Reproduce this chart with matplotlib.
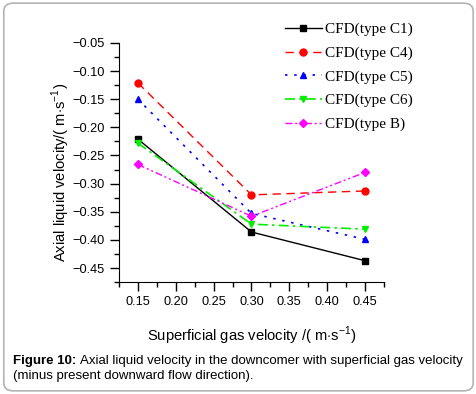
import numpy as np
import matplotlib
matplotlib.use("Agg")
import matplotlib.pyplot as plt
from matplotlib.patches import FancyBboxPatch
from matplotlib.ticker import MultipleLocator

# data
gas_velocity = [0.15, 0.30, 0.45]
c1 = [-0.221, -0.386, -0.437]
c4 = [-0.121, -0.320, -0.313]
c5 = [-0.150, -0.353, -0.399]
c6 = [-0.228, -0.372, -0.381]
type_b = [-0.266, -0.358, -0.280]
labels = ["CFD(type C1)", "CFD(type C4)", "CFD(type C5)", "CFD(type C6)", "CFD(type B)"]

plt.rcParams['font.family'] = ['Liberation Sans', 'DejaVu Sans']
plt.rcParams['mathtext.fontset'] = 'custom'
plt.rcParams['mathtext.rm'] = 'Liberation Sans'

fig = plt.figure(figsize=(4.77, 3.94), dpi=100)

# rounded grey frame round the whole figure
frame = FancyBboxPatch((0.008, 0.008), 0.984, 0.984, boxstyle="round,pad=0,rounding_size=0.02",
                       transform=fig.transFigure, facecolor='none', edgecolor='#b4b4b4', linewidth=1.2)
fig.patches.append(frame)

ax = fig.add_axes([0.2495, 0.284, 0.5555, 0.607])
ax.patch.set_alpha(0)

ax.plot(gas_velocity, c1, color='black', linestyle='-', marker='s', markersize=4, linewidth=1, label=labels[0])
ax.plot(gas_velocity, c4, color='#ff0000', linestyle=(0, (6, 4)), marker='o', markersize=5, linewidth=1, label=labels[1])
ax.plot(gas_velocity, c5, color='#0000ff', linestyle=(0, (1.5, 4)), marker='^', markersize=5, linewidth=1.2, label=labels[2])
ax.plot(gas_velocity, c6, color='#00ee00', linestyle=(0, (6, 2.5, 1.5, 2.5)), marker='v', markersize=5, linewidth=1.2, label=labels[3])
ax.plot(gas_velocity, type_b, color='#ff00ff', linestyle=(0, (5, 2, 1.5, 2, 1.5, 2)), marker='D', markersize=4, linewidth=1, label=labels[4])

ax.set_xlim(0.125, 0.475)
ax.set_ylim(-0.475, -0.05)
ax.set_xticks([0.15, 0.20, 0.25, 0.30, 0.35, 0.40, 0.45])
ax.set_yticks([-0.05, -0.10, -0.15, -0.20, -0.25, -0.30, -0.35, -0.40, -0.45])
ax.xaxis.set_minor_locator(MultipleLocator(0.025))
ax.yaxis.set_minor_locator(MultipleLocator(0.025))
ax.tick_params(which='major', direction='out', length=6.5, width=1, labelsize=9.2, pad=3.5)
ax.tick_params(which='minor', direction='out', length=3.5, width=1)
ax.spines['top'].set_visible(False)
ax.spines['right'].set_visible(False)

ax.set_xlabel('Superficial gas velocity /( m$\\cdot$s$^{-1}$)', fontsize=10.6, labelpad=12)
ax.set_ylabel('Axial liquid velocity/( m$\\cdot$s$^{-1}$)', fontsize=10.6)
ax.yaxis.set_label_coords(-0.178, 0.46)

ax.legend(loc='upper left', bbox_to_anchor=(0.626, 1.085), frameon=False, handlelength=2.4,
          labelspacing=0.64, handletextpad=0.2, borderaxespad=0, borderpad=0,
          prop={'family': 'Liberation Serif', 'size': 11})

# caption: bold lead-in followed by normal text
bold = fig.text(0.028, 0.084, "Figure 10:", fontsize=9.5, fontweight='bold', va='center', ha='left')
fig.canvas.draw()
bb = bold.get_window_extent().transformed(fig.transFigure.inverted())
fig.text(bb.x1 + 0.007, 0.084, "Axial liquid velocity in the downcomer with superficial gas velocity",
         fontsize=9.5, va='center', ha='left')
fig.text(0.028, 0.046, "(minus present downward flow direction).", fontsize=9.5, va='center', ha='left')

fig.savefig("out.png", dpi=100)
